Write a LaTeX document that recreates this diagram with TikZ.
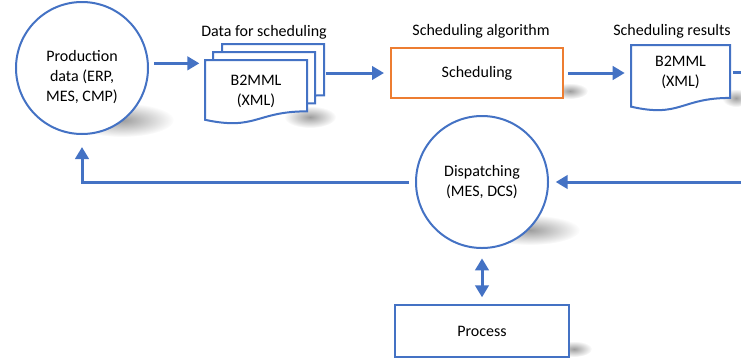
\documentclass[tikz,border=0pt]{standalone}
\usepackage{fontspec}
\setmainfont{Carlito}
\usetikzlibrary{arrows.meta,fadings}

\definecolor{msblue}{RGB}{68,114,196}
\definecolor{msorange}{RGB}{237,125,49}

\tikzfading[name=softedge, inner color=transparent!15, outer color=transparent!100]

% document outline: left, top, width, height
\newcommand{\docshape}[4]{%
  \draw[docline] (#1,#2) -- ({#1+#3},#2) -- ({#1+#3},{#2+0.802*#4})
    .. controls ({#1+0.5*#3},{#2+0.802*#4}) and ({#1+0.5*#3},{#2+1.107*#4}) .. (#1,{#2+0.934*#4}) -- cycle;}
% soft shadow: cx, cy, rx, ry
\newcommand{\softshadow}[4]{%
  \fill[black!45,path fading=softedge] (#1,#2) ellipse [x radius=#3, y radius=#4];}

\begin{document}
\begin{tikzpicture}[x=0.75pt,y=0.75pt,yscale=-1,xscale=1,
    every node/.style={font={\fontsize{12}{15}\selectfont}},
    roundnode/.style={circle,draw=msblue,line width=1.5pt,fill=white,minimum size=99pt,align=center,inner sep=0pt},
    boxnode/.style={rectangle,draw=msblue,line width=1.5pt,fill=white,minimum width=130.5pt,minimum height=39pt},
    docline/.style={draw=msblue,line width=1.5pt,fill=white},
    doctext/.style={align=center,inner sep=0pt},
    flow/.style={draw=msblue,line width=2.25pt,-{Triangle[length=9pt,width=10pt]}}]
        \useasboundingbox (0,0) rectangle (741,361);

        % Shadows
        \softshadow{122}{120}{52}{17}
        \softshadow{310}{117}{26}{11}
        \softshadow{570}{91}{18}{8}
        \softshadow{736}{98}{14}{9}
        \softshadow{530}{230}{50}{15}
        \softshadow{574}{349}{18}{8}

        % Documents
        \docshape{222}{44}{102}{64}
        \docshape{213}{52}{102}{64}
        \docshape{205}{60}{102}{64}
        \docshape{631}{45}{99}{66}

        % Nodes
        \node[roundnode,label={[align=center,yshift=-6.5pt]center:Production\\data (ERP,\\MES, CMP)}] (prod) at (82,68) {};
        \node[doctext,minimum width=76.5pt] (data) at (256,91) {B2MML\\(XML)};
        \node[boxnode,draw=msorange,minimum width=129pt,minimum height=37.5pt] (sched) at (477,73) {Scheduling};
        \node[doctext,minimum width=74.25pt] (res) at (680.5,72) {B2MML\\(XML)};
        \node[roundnode] (disp) at (482,182) {Dispatching\\(MES, DCS)};
        \node[boxnode] (proc) at (482,331) {Process};

        % Text Node
        \node (datalbl) at (264,32) {Data for scheduling};
        % Text Node
        \node (alglbl) at (481,31) {Scheduling algorithm};
        % Text Node
        \node (reslbl) at (672,31) {Scheduling results};

        \coordinate (outR) at (745,72);
        \coordinate (inR) at (745,182);

        % Connectors
        \draw[flow,shorten <=4pt,shorten >=4pt] ([yshift=-3.5pt]prod.east) -- ([yshift=-3.5pt]prod.east -| data.west);
        \draw[flow,shorten <=2pt,shorten >=4.5pt] ([xshift=12pt]data.east |- sched.west) -- (sched.west);
        \draw[flow,shorten <=3pt,shorten >=4.5pt] (sched.east) -- (sched.east -| res.west);
        \draw[draw=msblue,line width=2.25pt,shorten <=2pt] (res.east |- outR) -- (outR);
        \draw[flow,shorten >=5pt] (inR) -- (disp.east);
        \draw[flow,shorten <=4.5pt,shorten >=9pt] (disp.west) -| (prod.south);
        \draw[flow,{Triangle[length=9pt,width=10pt]}-{Triangle[length=9pt,width=10pt]},shorten <=7pt,shorten >=5pt] (disp.south) -- (proc.north);

\end{tikzpicture}
\end{document}
